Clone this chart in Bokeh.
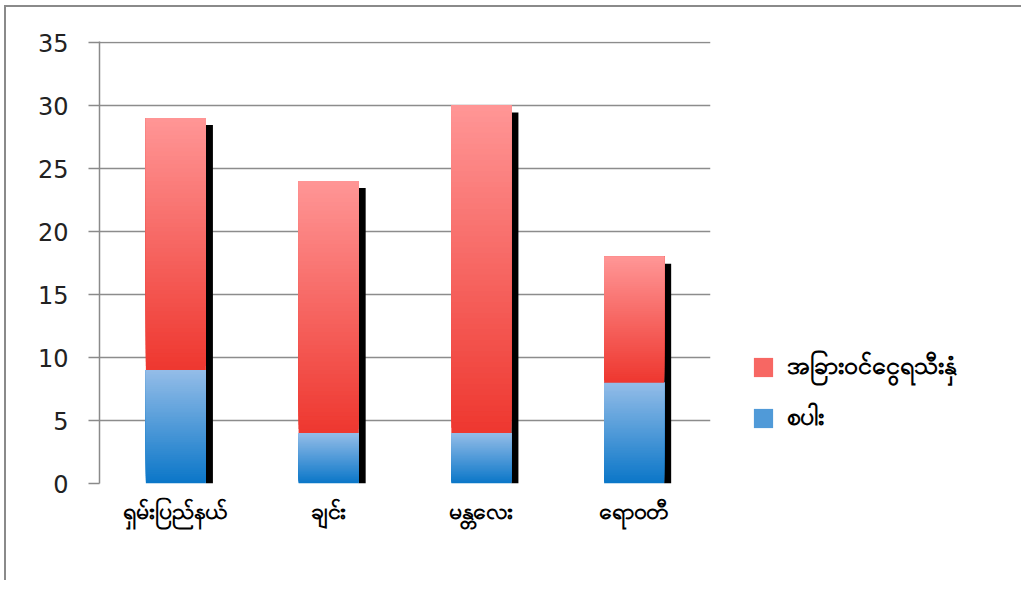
import numpy as np
from bokeh.plotting import figure
from bokeh.models import (FactorRange, Range1d, Legend, LegendItem,
                          ColumnDataSource, FixedTicker)
from bokeh.transform import dodge
from bokeh.embed import file_html
from bokeh.resources import INLINE

# ---- data ----
regions = ["ရှမ်းပြည်နယ်", "ချင်း", "မန္တလေး", "ရောဝတီ"]
paddy = [9, 4, 4, 8]            # စပါး
other_crops = [20, 20, 26, 10]  # အခြားဝင်ငွေရသီးနှံ
series_names = ["အခြားဝင်ငွေရသီးနှံ", "စပါး"]
y_ticks = [0, 5, 10, 15, 20, 25, 30, 35]

# ---- styling constants ----
BAR_W = 0.393
N_SLICES = 60
BLUE_DARK, BLUE_LIGHT = (10, 118, 200), (148, 189, 232)
RED_DARK, RED_LIGHT = (238, 55, 47), (255, 150, 150)
MYFONT = "Noto Sans"


def hexcol(c):
    return "#%02x%02x%02x" % tuple(int(round(v)) for v in c)


def gradient_slices(cats, bottoms, tops, dark, light):
    # overlapping slices: each one runs from its own bottom to the segment top,
    # later (higher) slices paint over earlier ones -> seamless gradient
    xs, bs, ts, cs = [], [], [], []
    for cat, b, t in zip(cats, bottoms, tops):
        edges = np.linspace(b, t, N_SLICES + 1)
        for k in range(N_SLICES):
            f = (k + 0.5) / N_SLICES
            col = [d + (l - d) * f for d, l in zip(dark, light)]
            xs.append(cat)
            bs.append(edges[k])
            ts.append(t)
            cs.append(hexcol(col))
    return dict(x=xs, bottom=bs, top=ts, color=cs)


totals = [a + b for a, b in zip(paddy, other_crops)]

# y range a hair above the last tick so its grid line is drawn
p = figure(x_range=FactorRange(*regions), y_range=Range1d(0, 35.08),
           frame_width=611, frame_height=442,
           min_border_left=93, min_border_right=300,
           min_border_top=34, min_border_bottom=97,
           output_backend="svg", toolbar_location=None)
p.styles = {"margin-left": "4px", "margin-top": "5px",
            "border-top": "2px solid #8a8a8a", "border-left": "2px solid #8a8a8a"}
p.outline_line_color = None
p.background_fill_color = "white"
p.border_fill_color = "white"

# shadows (black strip at the right of each bar)
shadow_src = ColumnDataSource(dict(x=regions, top=[t - 0.55 for t in totals]))
p.vbar(x=dodge("x", BAR_W / 2 + 0.023, range=p.x_range), width=0.046,
       top="top", bottom=0, source=shadow_src,
       fill_color="black", line_color=None)

blue_src = ColumnDataSource(gradient_slices(regions, [0] * 4, paddy,
                                            BLUE_DARK, BLUE_LIGHT))
red_src = ColumnDataSource(gradient_slices(regions, paddy, totals,
                                           RED_DARK, RED_LIGHT))
r_blue = p.vbar(x="x", width=BAR_W, bottom="bottom", top="top",
                source=blue_src, fill_color="color", line_color=None)
r_red = p.vbar(x="x", width=BAR_W, bottom="bottom", top="top",
               source=red_src, fill_color="color", line_color=None)

# axes
p.yaxis.ticker = FixedTicker(ticks=y_ticks)
p.yaxis.axis_line_color = "#8a8a8a"
p.yaxis.axis_line_width = 1.5
p.yaxis.major_tick_line_color = "#8a8a8a"
p.yaxis.major_tick_line_width = 1.5
p.yaxis.major_tick_out = 11
p.yaxis.major_tick_in = 0
p.yaxis.minor_tick_line_color = None
p.yaxis.major_label_standoff = 20
p.yaxis.major_label_text_font = "DejaVu Sans"
p.yaxis.major_label_text_font_size = "24px"
p.yaxis.major_label_text_color = "#222222"

p.xaxis.axis_line_color = None
p.xaxis.major_tick_line_color = None
p.xaxis.minor_tick_line_color = None
p.xaxis.major_label_standoff = 4
p.xaxis.major_label_text_font = MYFONT
p.xaxis.major_label_text_font_size = "23px"
p.xaxis.major_label_text_font_style = "bold"
p.xaxis.major_label_text_color = "black"

p.xgrid.grid_line_color = None
p.ygrid.grid_line_color = "#8c8c8c"
p.ygrid.grid_line_width = 1.5

# legend
mid = N_SLICES // 2
legend = Legend(items=[
    LegendItem(label=series_names[0], renderers=[r_red], index=mid),
    LegendItem(label=series_names[1], renderers=[r_blue], index=mid),
], location=(41, 46))
legend.glyph_width = 24
legend.glyph_height = 24
legend.label_height = 24
legend.spacing = 12
legend.padding = 0
legend.margin = 0
legend.label_standoff = 12
legend.label_text_font = MYFONT
legend.label_text_font_size = "25px"
legend.label_text_font_style = "bold"
legend.label_text_color = "black"
legend.border_line_color = None
legend.background_fill_alpha = 0
p.add_layout(legend, "right")

open("out.html", "w").write(file_html(p, INLINE))
